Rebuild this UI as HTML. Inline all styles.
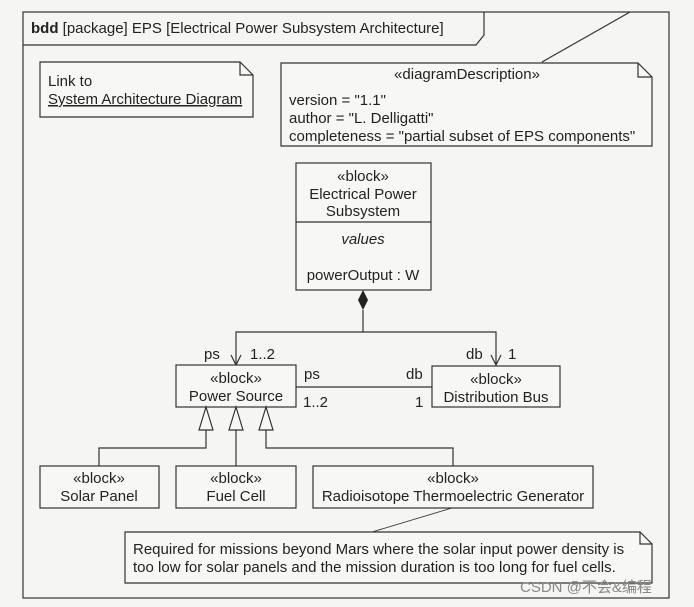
<!DOCTYPE html>
<html><head><meta charset="utf-8"><style>
html,body{margin:0;padding:0;background:#f5f5f3;}
svg{display:block;font-family:"Liberation Sans",Arial,sans-serif;}
text{fill:#222;font-size:15px;}
</style></head><body>
<svg width="694" height="607" viewBox="0 0 694 607" xmlns="http://www.w3.org/2000/svg">
<rect width="694" height="607" fill="#f5f5f3"/>
<g fill="none" stroke="#333" stroke-width="1.2">
<rect x="23" y="12" width="646" height="586"/>
<polyline points="23,45 476,45 484,35 484,12"/>
<line x1="630" y1="12" x2="542" y2="62"/>
<polygon points="40,62 240,62 253,75 253,117 40,117" fill="#f7f7f5"/>
<polyline points="240,62 240,75 253,75"/>
<polygon points="281,63 638,63 652,77 652,146 281,146" fill="#f7f7f5"/>
<polyline points="638,63 638,77 652,77"/>
<rect x="296" y="163" width="135" height="127" fill="#f7f7f5"/>
<line x1="296" y1="222" x2="431" y2="222"/>
<line x1="363" y1="310" x2="363" y2="332"/>
<polyline points="236,365 236,332 496,332 496,365"/>
<polyline points="231,355 236,365 241,355"/>
<polyline points="491,355 496,365 501,355"/>
<rect x="176" y="365" width="120" height="42" fill="#f7f7f5"/>
<rect x="432" y="366" width="128" height="41" fill="#f7f7f5"/>
<line x1="296" y1="387" x2="432" y2="387"/>
<polygon points="206,407 199,430 213,430" fill="#f7f7f5"/>
<polygon points="236,407 229,430 243,430" fill="#f7f7f5"/>
<polygon points="266,407 259,430 273,430" fill="#f7f7f5"/>
<polyline points="206,430 206,448 99,448 99,466"/>
<line x1="236" y1="430" x2="236" y2="466"/>
<polyline points="266,430 266,448 453,448 453,466"/>
<rect x="40" y="466" width="119" height="42" fill="#f7f7f5"/>
<rect x="176" y="466" width="120" height="42" fill="#f7f7f5"/>
<rect x="313" y="466" width="280" height="42" fill="#f7f7f5"/>
<line x1="452" y1="508" x2="372" y2="532" stroke-width="0.9"/>
<polygon points="125,532 640,532 652,544 652,583 125,583" fill="#f7f7f5"/>
<polyline points="640,532 640,544 652,544"/>
</g>
<polygon points="363,290 358,300 363,310 368,300" fill="#222"/>
<text x="31" y="33"><tspan font-weight="bold">bdd</tspan> [package] EPS [Electrical Power Subsystem Architecture]</text>
<text x="48" y="86">Link to</text>
<text x="48" y="104" text-decoration="underline">System Architecture Diagram</text>
<text x="467" y="79" text-anchor="middle">«diagramDescription»</text>
<text x="289" y="105">version = "1.1"</text>
<text x="289" y="123">author = "L. Delligatti"</text>
<text x="289" y="141">completeness = "partial subset of EPS components"</text>
<text x="363" y="181" text-anchor="middle">«block»</text>
<text x="363" y="199" text-anchor="middle">Electrical Power</text>
<text x="363" y="216" text-anchor="middle">Subsystem</text>
<text x="363" y="244" text-anchor="middle" font-style="italic">values</text>
<text x="363" y="280" text-anchor="middle">powerOutput : W</text>
<text x="204" y="359">ps</text>
<text x="250" y="359">1..2</text>
<text x="466" y="359">db</text>
<text x="508" y="359">1</text>
<text x="236" y="383" text-anchor="middle">«block»</text>
<text x="236" y="401" text-anchor="middle">Power Source</text>
<text x="496" y="384" text-anchor="middle">«block»</text>
<text x="496" y="402" text-anchor="middle">Distribution Bus</text>
<text x="304" y="379">ps</text>
<text x="406" y="379">db</text>
<text x="303" y="407">1..2</text>
<text x="415" y="407">1</text>
<text x="99" y="483" text-anchor="middle">«block»</text>
<text x="99" y="501" text-anchor="middle">Solar Panel</text>
<text x="236" y="483" text-anchor="middle">«block»</text>
<text x="236" y="501" text-anchor="middle">Fuel Cell</text>
<text x="453" y="483" text-anchor="middle">«block»</text>
<text x="453" y="501" text-anchor="middle">Radioisotope Thermoelectric Generator</text>
<text x="133" y="554">Required for missions beyond Mars where the solar input power density is</text>
<text x="133" y="572">too low for solar panels and the mission duration is too long for fuel cells.</text>
<text x="520" y="592" font-family="Liberation Sans, Noto Sans CJK SC, sans-serif" style="fill:#888;font-size:15px">CSDN @不会&amp;编程</text>
</svg>
</body></html>
